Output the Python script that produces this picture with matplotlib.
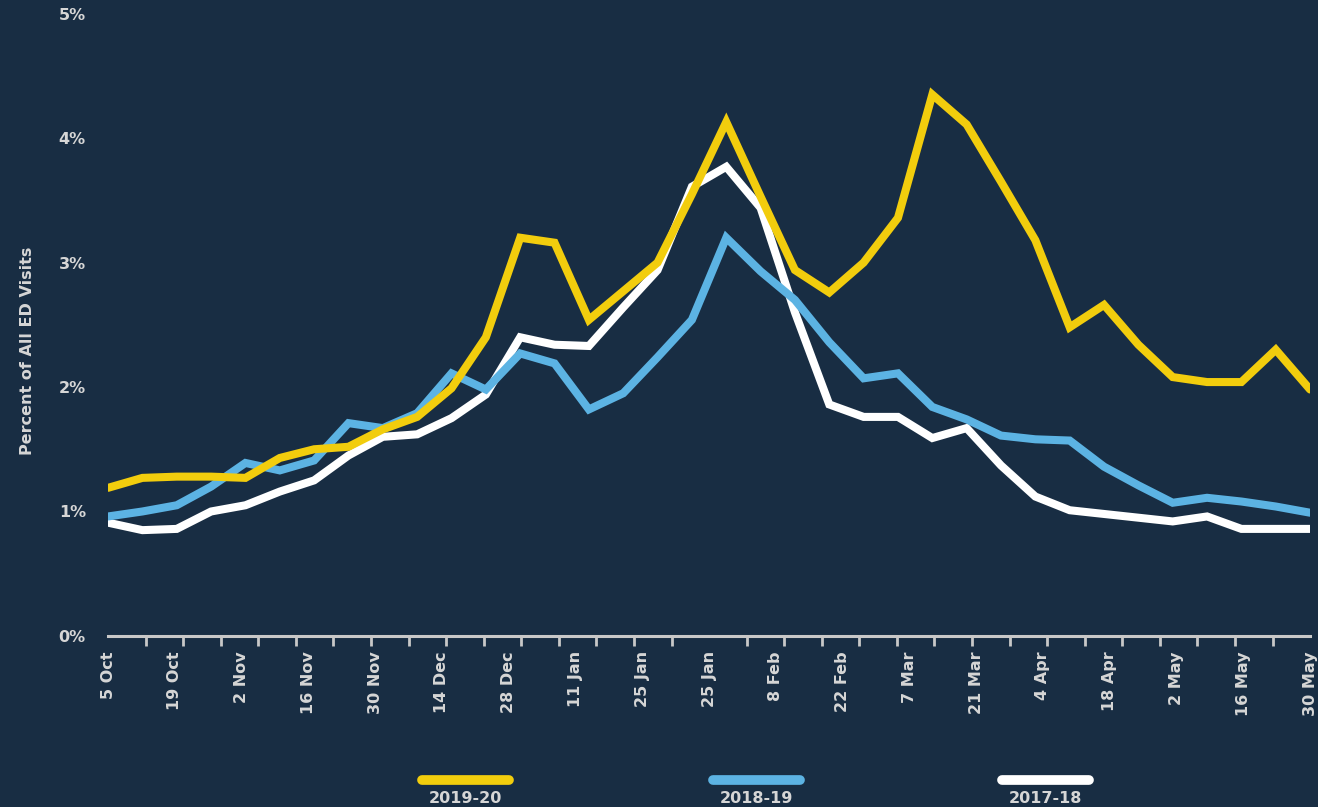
import matplotlib.pyplot as plt
from matplotlib.lines import Line2D
import numpy as np

plt.rcParams['font.family'] = ['DejaVu Sans']
plt.rcParams['font.weight'] = 'bold'

# weekly share of ED visits (%)
season_2019_20 = [1.19, 1.27, 1.28, 1.28, 1.27, 1.43, 1.50, 1.52, 1.66, 1.76,
                  1.99, 2.40, 3.20, 3.16, 2.54, 2.77, 3.00, 3.55, 4.13, 3.53,
                  2.94, 2.76, 3.00, 3.36, 4.35, 4.11, 3.65, 3.18, 2.48, 2.66,
                  2.34, 2.08, 2.04, 2.04, 2.30, 1.98]
season_2018_19 = [0.96, 1.00, 1.05, 1.20, 1.39, 1.33, 1.41, 1.71, 1.67, 1.79,
                  2.11, 1.98, 2.27, 2.19, 1.82, 1.95, 2.24, 2.54, 3.20, 2.93,
                  2.70, 2.36, 2.07, 2.11, 1.84, 1.74, 1.61, 1.58, 1.57, 1.36,
                  1.21, 1.07, 1.11, 1.08, 1.04, 0.99]
season_2017_18 = [0.91, 0.85, 0.86, 1.00, 1.05, 1.16, 1.25, 1.45, 1.60, 1.62,
                  1.75, 1.94, 2.40, 2.34, 2.33, 2.64, 2.94, 3.61, 3.77, 3.44,
                  2.60, 1.86, 1.76, 1.76, 1.59, 1.67, 1.37, 1.12, 1.01, 0.98,
                  0.95, 0.92, 0.96, 0.86, 0.86, 0.86]

date_labels = ['5 Oct', '19 Oct', '2 Nov', '16 Nov', '30 Nov', '14 Dec', '28 Dec',
               '11 Jan', '25 Jan', '25 Jan', '8 Feb', '22 Feb', '7 Mar', '21 Mar',
               '4 Apr', '18 Apr', '2 May', '16 May', '30 May']
y_ticks = [0, 1, 2, 3, 4, 5]
y_labels = ['0%', '1%', '2%', '3%', '4%', '5%']

series = [('2019-20', season_2019_20, '#f2cd0d'),
          ('2018-19', season_2018_19, '#5cb3e3'),
          ('2017-18', season_2017_18, '#ffffff')]

bg = '#182d43'
txt = '#d6d6d6'
fs = 11.5

fig = plt.figure(figsize=(13.18, 8.07), dpi=100, facecolor=bg)
ax = fig.add_axes([0.082, 0.212, 0.912, 0.771], facecolor=bg)

x = np.arange(len(season_2019_20))
for name, vals, col in series[::-1]:
    ax.plot(x, vals, color=col, lw=5.8, solid_joinstyle='miter',
            solid_capstyle='round', zorder=3)

ax.set_xlim(0, x[-1])
ax.set_ylim(0, 5)

for s in ['top', 'right', 'left']:
    ax.spines[s].set_visible(False)
ax.spines['bottom'].set_color('#c8c8c8')
ax.spines['bottom'].set_linewidth(2.2)
ax.spines['bottom'].set_zorder(1)

ax.set_xticks(np.linspace(0, x[-1], len(date_labels)))
ax.set_xticklabels(date_labels, rotation=90, fontsize=fs, color=txt, fontweight='bold')
ax.set_xticks(np.linspace(0, x[-1], 33), minor=True)
ax.tick_params(axis='x', which='major', length=0, pad=11)
ax.tick_params(axis='x', which='minor', length=7, width=2, color='#c8c8c8')

ax.set_yticks(y_ticks)
ax.set_yticklabels(y_labels, fontsize=fs, color=txt, fontweight='bold')
ax.tick_params(axis='y', length=0, pad=16)

ax.set_ylabel('Percent of All ED Visits', fontsize=fs, color=txt, fontweight='bold')
ax.yaxis.set_label_coords(-0.061, 0.458)

# legend: thick bar over each season label
centers = [0.353, 0.574, 0.793]
for (name, vals, col), cx in zip(series, centers):
    fig.add_artist(Line2D([cx - 0.033, cx + 0.033], [0.034, 0.034], color=col,
                          lw=7, solid_capstyle='round', transform=fig.transFigure))
    fig.text(cx, 0.011, name, ha='center', va='center', fontsize=fs,
             color=txt, fontweight='bold')

fig.savefig('out.png', dpi=100, facecolor=bg)
